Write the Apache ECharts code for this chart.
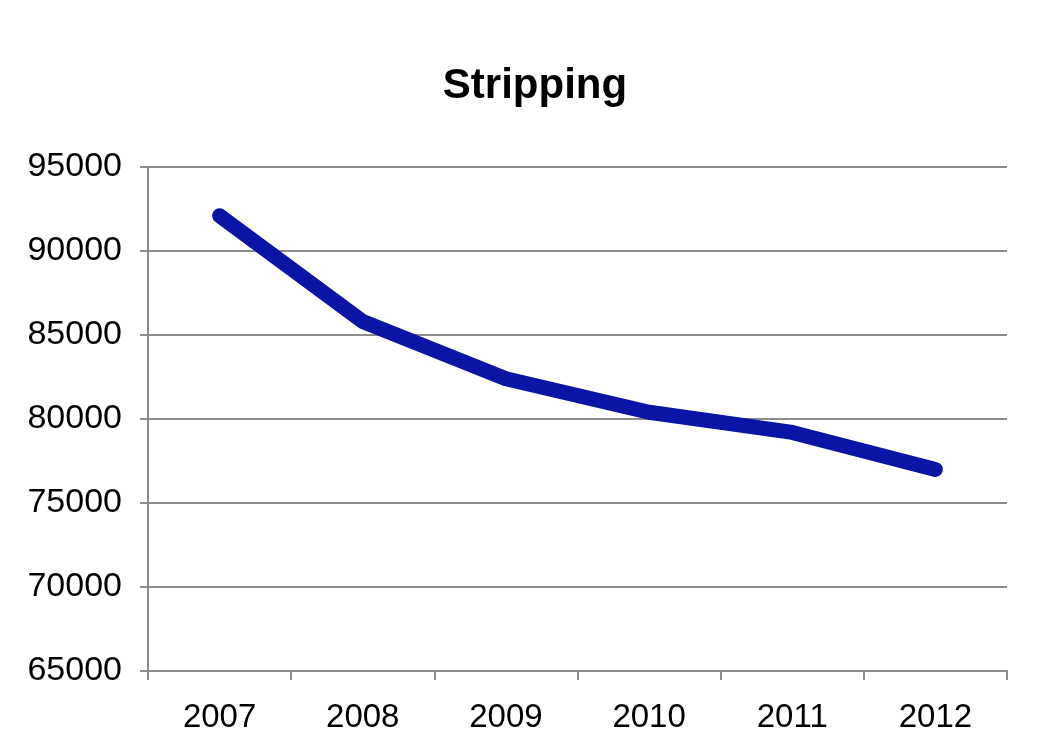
<!DOCTYPE html>
<html>
<head>
<meta charset="utf-8">
<script src="https://cdn.jsdelivr.net/npm/echarts@6/dist/echarts.min.js"></script>
<style>html,body{margin:0;padding:0;background:#fff}#c{width:1042px;height:756px}</style>
</head>
<body>
<div id="c"></div>
<script>
const categories = ['2007', '2008', '2009', '2010', '2011', '2012'];
const values = [92100, 85800, 82400, 80400, 79200, 77000];
const titleText = 'Stripping';

const chart = echarts.init(document.getElementById('c'), null, {renderer: 'canvas'});
chart.setOption({
  backgroundColor: '#ffffff',
  animation: false,
  title: {
    text: titleText,
    left: 530, top: 60, textAlign: 'center',
    textStyle: {fontFamily: 'Liberation Sans', fontWeight: 'bold', fontSize: 42, color: '#000'}
  },
  grid: {left: 148, right: 35, top: 167, bottom: 85},
  xAxis: {
    type: 'category', data: categories, boundaryGap: true,
    axisLine: {lineStyle: {color: '#8c8c8c', width: 2}},
    axisTick: {show: true, length: 9, lineStyle: {color: '#8c8c8c', width: 2}},
    axisLabel: {margin: 30, fontFamily: 'Liberation Sans', fontSize: 33, color: '#000'}
  },
  yAxis: {
    type: 'value', min: 65000, max: 95000, interval: 5000,
    axisLine: {show: true, lineStyle: {color: '#8c8c8c', width: 2}},
    axisTick: {show: true, length: 8, lineStyle: {color: '#8c8c8c', width: 2}},
    splitLine: {lineStyle: {color: '#8c8c8c', width: 2}},
    axisLabel: {margin: 26, fontFamily: 'Liberation Sans', fontSize: 34, color: '#000',
      formatter: function (v) { return String(v); }}
  },
  series: [{
    type: 'line', data: values, symbol: 'none',
    lineStyle: {color: '#0a14a5', width: 15, cap: 'round', join: 'round'}
  }]
});
</script>
</body>
</html>
